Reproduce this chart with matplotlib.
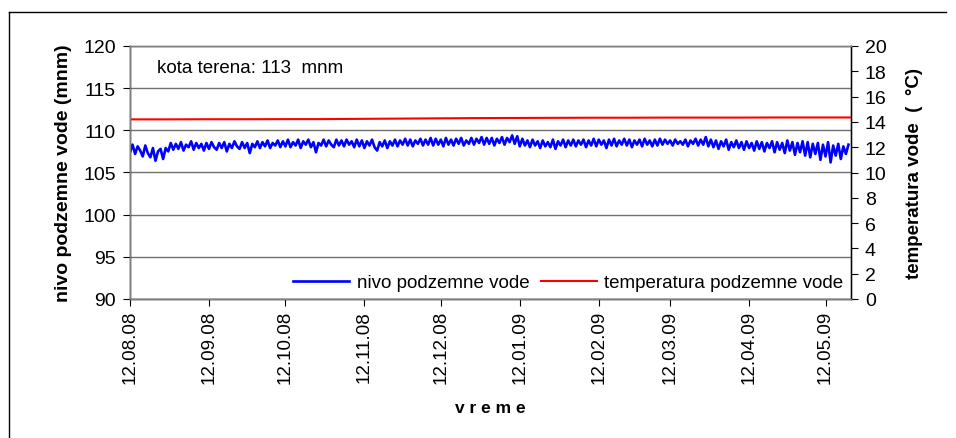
import matplotlib
matplotlib.use("Agg")
import matplotlib.pyplot as plt
import matplotlib.dates as mdates
from matplotlib.lines import Line2D
import pandas as pd

plt.rcParams['font.family'] = ['Liberation Sans', 'DejaVu Sans']

# ---- data ----
start_date = '2008-08-12'
end_date = '2009-05-22'
# daily groundwater level (mnm)
level = [
    107.4, 108.3, 107.2, 108.1, 107.6, 106.9, 108.2, 107.3, 106.8, 107.9, 106.4, 107.5, 107.8, 106.6, 107.9, 107.5, 108.5, 107.7, 108.4, 107.8, 108.6, 107.6, 108.3, 108.0, 108.7, 107.7, 108.5, 107.9, 108.4, 107.6,
    108.5, 107.8, 108.6, 108.0, 107.7, 108.5, 107.9, 108.6, 107.5, 108.4, 107.9, 108.7, 108.1, 107.8, 108.6, 107.9, 108.5, 107.3, 108.4, 108.0, 108.7, 107.9, 108.6, 108.1, 108.8, 107.9, 108.5, 108.2, 108.8, 108.0,
    108.7, 108.1, 108.9, 108.0, 108.6, 108.2, 108.9, 107.9, 108.7, 108.3, 108.9, 108.0, 108.6, 107.4, 108.5, 108.2, 108.9, 108.1, 108.8, 108.3, 108.0, 108.9, 108.2, 108.8, 108.1, 108.9, 108.3, 108.7, 108.0, 108.9,
    108.1, 108.8, 107.9, 108.7, 108.2, 108.9, 108.0, 107.6, 108.6, 108.1, 108.8, 107.9, 108.7, 108.2, 108.9, 108.1, 108.8, 108.3, 109.0, 108.2, 108.9, 108.1, 108.8, 108.4, 109.0, 108.2, 108.9, 108.3, 109.1, 108.2,
    109.0, 108.3, 108.9, 108.1, 109.1, 108.3, 108.9, 108.2, 109.0, 108.4, 109.1, 108.2, 108.8, 108.4, 109.1, 108.3, 109.0, 108.5, 109.2, 108.3, 109.1, 108.4, 109.1, 108.2, 109.0, 108.5, 109.2, 108.3, 109.1, 108.6,
    109.4, 108.4, 109.3, 108.1, 109.0, 108.2, 108.8, 108.0, 108.9, 108.2, 108.7, 107.9, 108.8, 108.1, 108.6, 108.0, 108.9, 107.8, 108.7, 108.2, 108.9, 108.0, 108.8, 108.2, 108.9, 108.1, 108.8, 108.3, 108.9, 108.0,
    108.8, 108.2, 109.0, 108.1, 108.9, 108.3, 108.8, 107.9, 108.9, 108.2, 109.0, 108.1, 108.8, 108.3, 109.0, 108.2, 108.9, 108.0, 108.8, 108.3, 108.9, 108.1, 109.0, 108.3, 108.8, 108.1, 108.9, 108.2, 109.0, 108.3,
    108.9, 108.4, 108.8, 108.2, 108.9, 108.4, 108.7, 108.3, 108.9, 108.1, 108.8, 108.4, 109.0, 108.2, 108.9, 108.3, 109.2, 108.1, 108.9, 108.0, 108.8, 107.8, 108.7, 108.1, 108.9, 107.7, 108.6, 108.0, 108.8, 107.9,
    108.6, 107.7, 108.7, 107.9, 108.5, 107.6, 108.7, 107.8, 108.6, 107.5, 108.5, 107.9, 108.7, 107.4, 108.6, 107.7, 108.5, 107.3, 108.8, 107.6, 108.6, 107.1, 108.5, 107.4, 108.7, 107.0, 108.6, 106.8, 108.4, 107.2,
    108.5, 106.5, 108.3, 106.9, 108.6, 106.2, 108.2, 107.0, 108.4, 106.6, 108.1, 107.2, 108.3,
]
# groundwater temperature (°C), every 15 days
temperature = [14.20, 14.20, 14.21, 14.21, 14.22, 14.22, 14.24, 14.26, 14.28, 14.30,
               14.31, 14.32, 14.33, 14.33, 14.34, 14.34, 14.34, 14.35, 14.35, 14.35]
tick_dates = ['2008-08-12', '2008-09-12', '2008-10-12', '2008-11-12', '2008-12-12',
              '2009-01-12', '2009-02-12', '2009-03-12', '2009-04-12', '2009-05-12']
level_label = 'nivo podzemne vode'
temp_label = 'temperatura podzemne vode'
annotation = 'kota terena: 113  mnm'

level_dates = pd.date_range(start_date, periods=len(level), freq='1D')
temp_dates = pd.date_range(start_date, periods=len(temperature), freq='15D')

fig = plt.figure(figsize=(9.56, 4.39), dpi=100)
ax = fig.add_axes([130/956, 1-300/439, (851-130)/956, (300-47)/439])
ax2 = ax.twinx()

l1, = ax.plot(level_dates, level, color='#0000ff', lw=1.9)
l2, = ax2.plot(temp_dates, temperature, color='#ff0000', lw=1.5)

ax.set_ylim(90, 120)
ax.set_yticks(range(90, 121, 5))
ax2.set_ylim(0, 20)
ax2.set_yticks(range(0, 21, 2))
ax.set_xlim(pd.Timestamp(start_date), pd.Timestamp(end_date))
ax.set_xticks(pd.to_datetime(tick_dates))
ax.xaxis.set_major_formatter(mdates.DateFormatter('%d.%m.%y'))
ax.grid(axis='y', color='#707070', lw=1)
ax.set_axisbelow(True)

for a in (ax, ax2):
    for s in a.spines.values():
        s.set_color('#808080')
        s.set_linewidth(1)
ax.spines['left'].set_color('black')
ax.spines['bottom'].set_color('black')
ax2.spines['right'].set_color('black')

ax.tick_params(axis='x', labelrotation=90, labelsize=13.5, direction='out', length=5, pad=3)
ax.tick_params(axis='y', labelsize=14, direction='out', length=5, pad=5)
ax2.tick_params(axis='y', labelsize=14, direction='out', length=5, pad=5)

ax.set_ylabel('nivo podzemne vode (mnm)', fontsize=14, fontweight='bold', labelpad=8)
ax2.set_ylabel('temperatura vode  (  °C)', fontsize=13.5, fontweight='bold', labelpad=14)
ax.set_xlabel('v r e m e', fontsize=12.5, fontweight='bold', labelpad=12)

ax.text(0.037, 0.915, annotation, transform=ax.transAxes, fontsize=13.5, va='center', ha='left')

leg = ax2.legend([l1, l2], [level_label, temp_label], loc='lower right', ncol=2,
                 fontsize=13.5, frameon=True, fancybox=False, borderaxespad=0.1,
                 handlelength=3.0, columnspacing=0.6, handletextpad=0.4, borderpad=0.3)
leg.get_frame().set_edgecolor('none')
leg.get_frame().set_facecolor('white')
leg.get_frame().set_alpha(1)

# outer chart frame
fig.add_artist(Line2D([9/956, 946/956], [1-13/439, 1-13/439], transform=fig.transFigure, color='black', lw=1))
fig.add_artist(Line2D([9/956, 9/956], [1-13/439, 0], transform=fig.transFigure, color='black', lw=1))

fig.savefig('out.png', dpi=100)
